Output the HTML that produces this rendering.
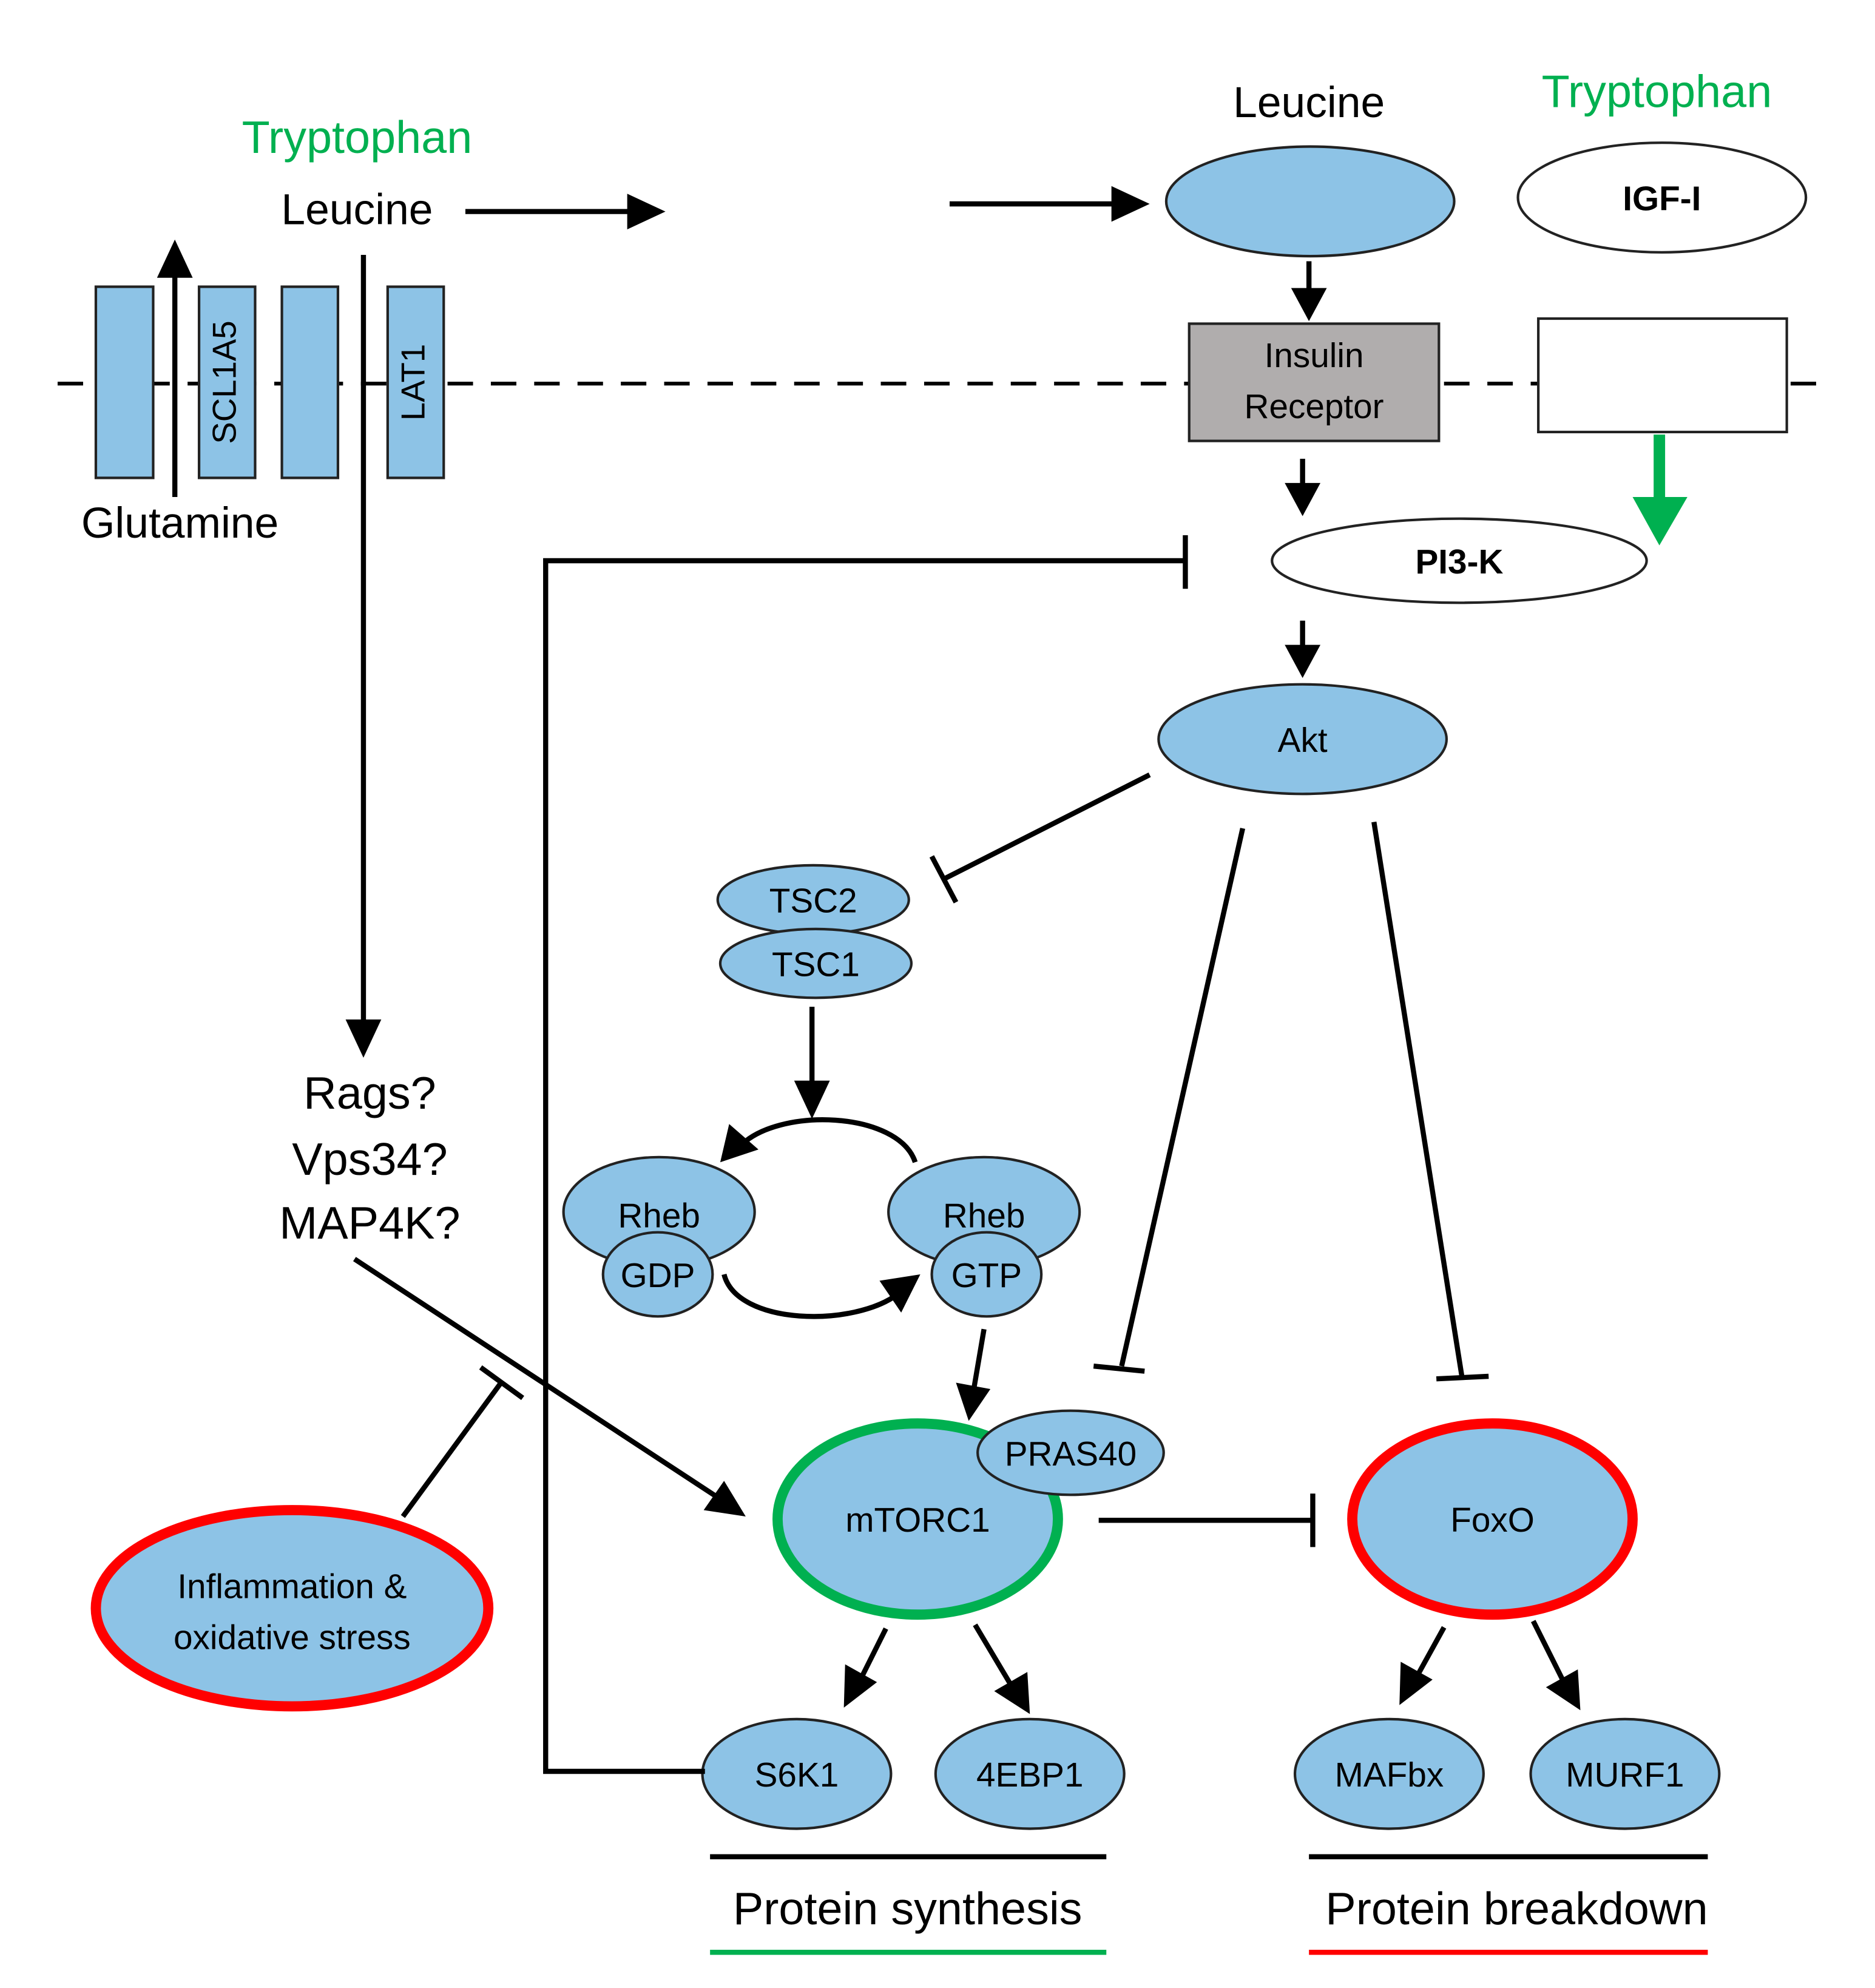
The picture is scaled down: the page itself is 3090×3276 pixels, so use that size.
<!DOCTYPE html>
<html><head><meta charset="utf-8"><style>
html,body{margin:0;padding:0;background:#fff;}
svg{display:block;}
text{font-family:"Liberation Sans",sans-serif;}
</style></head><body>
<svg width="3090" height="3276" viewBox="0 0 1471 1560" xmlns="http://www.w3.org/2000/svg">
<defs>
<marker id="ah" viewBox="0 0 10 10" refX="9" refY="5" markerWidth="10" markerHeight="10" markerUnits="userSpaceOnUse" orient="auto">
</marker>
</defs>
<g id="all" stroke-linecap="butt">
<!-- membrane -->
<line x1="45" y1="301" x2="1435" y2="301" stroke="#000" stroke-width="3" stroke-dasharray="20,14"/>
<g fill="#8dc3e6" stroke="#222" stroke-width="2">
<rect x="75" y="225" width="45" height="150"/>
<rect x="156" y="225" width="44" height="150"/>
<rect x="221" y="225" width="44" height="150"/>
<rect x="304" y="225" width="44" height="150"/>
</g>
<text x="178" y="300" font-size="26" text-anchor="middle" dominant-baseline="middle" transform="rotate(-90 178 300)">SCL1A5</text>
<text x="326" y="300" font-size="26" text-anchor="middle" dominant-baseline="middle" transform="rotate(-90 326 300)">LAT1</text>
<rect x="933" y="254" width="196" height="92" fill="#b0adad" stroke="#222" stroke-width="2"/>
<text x="1031" y="288" font-size="27" text-anchor="middle">Insulin</text>
<text x="1031" y="328" font-size="27" text-anchor="middle">Receptor</text>
<rect x="1207" y="250" width="195" height="89" fill="#fff" stroke="#222" stroke-width="2"/>

<!-- top labels -->
<text x="280" y="120" font-size="36" fill="#00b050" text-anchor="middle">Tryptophan</text>
<text x="280" y="176" font-size="34" text-anchor="middle">Leucine</text>
<text x="1027" y="92" font-size="34" text-anchor="middle">Leucine</text>
<text x="1300" y="84" font-size="36" fill="#00b050" text-anchor="middle">Tryptophan</text>
<text x="141" y="422" font-size="34" text-anchor="middle">Glutamine</text>

<!-- ellipses -->
<g stroke="#222" stroke-width="2">
<ellipse cx="1028" cy="158" rx="113" ry="43" fill="#8dc3e6"/>
<ellipse cx="1304" cy="155" rx="113" ry="43" fill="#fff"/>
<ellipse cx="1145" cy="440" rx="147" ry="33" fill="#fff"/>
<ellipse cx="1022" cy="580" rx="113" ry="43" fill="#8dc3e6"/>
<ellipse cx="638" cy="706" rx="75" ry="27" fill="#8dc3e6"/>
<ellipse cx="640" cy="756" rx="75" ry="27" fill="#8dc3e6"/>
<ellipse cx="517" cy="951" rx="75" ry="43" fill="#8dc3e6"/>
<ellipse cx="516" cy="1000" rx="43" ry="33" fill="#8dc3e6"/>
<ellipse cx="772" cy="951" rx="75" ry="43" fill="#8dc3e6"/>
<ellipse cx="774" cy="1000" rx="43" ry="33" fill="#8dc3e6"/>
<ellipse cx="625" cy="1392" rx="74" ry="43" fill="#8dc3e6"/>
<ellipse cx="808" cy="1392" rx="74" ry="43" fill="#8dc3e6"/>
<ellipse cx="1090" cy="1392" rx="74" ry="43" fill="#8dc3e6"/>
<ellipse cx="1275" cy="1392" rx="74" ry="43" fill="#8dc3e6"/>
</g>
<ellipse cx="229" cy="1262" rx="154" ry="77" fill="#8dc3e6" stroke="#f00" stroke-width="8"/>
<ellipse cx="720" cy="1192" rx="110" ry="75" fill="#8dc3e6" stroke="#00b050" stroke-width="8"/>
<ellipse cx="840" cy="1140" rx="73" ry="33" fill="#8dc3e6" stroke="#222" stroke-width="2"/>
<ellipse cx="1171" cy="1192" rx="110" ry="75" fill="#8dc3e6" stroke="#f00" stroke-width="8"/>

<g font-size="27" text-anchor="middle">
<text x="1304" y="165" font-weight="bold">IGF-I</text>
<text x="1145" y="450" font-weight="bold">PI3-K</text>
<text x="1022" y="590">Akt</text>
<text x="638" y="716">TSC2</text>
<text x="640" y="766">TSC1</text>
<text x="517" y="963">Rheb</text>
<text x="516" y="1010">GDP</text>
<text x="772" y="963">Rheb</text>
<text x="774" y="1010">GTP</text>
<text x="720" y="1202">mTORC1</text>
<text x="840" y="1150">PRAS40</text>
<text x="1171" y="1202">FoxO</text>
<text x="229" y="1254">Inflammation &amp;</text>
<text x="229" y="1294">oxidative stress</text>
<text x="625" y="1402">S6K1</text>
<text x="808" y="1402">4EBP1</text>
<text x="1090" y="1402">MAFbx</text>
<text x="1275" y="1402">MURF1</text>
</g>
<g font-size="36" text-anchor="middle">
<text x="290" y="870">Rags?</text>
<text x="290" y="922">Vps34?</text>
<text x="290" y="972">MAP4K?</text>
<text x="712" y="1510">Protein synthesis</text>
<text x="1190" y="1510">Protein breakdown</text>
</g>

<!-- lines -->
<g stroke="#000" stroke-width="4" fill="none">
<line x1="365" y1="166" x2="495" y2="166"/>
<line x1="745" y1="160" x2="875" y2="160"/>
<line x1="137" y1="390" x2="137" y2="215"/>
<line x1="285" y1="200" x2="285" y2="805"/>
<line x1="1027" y1="205" x2="1027" y2="230"/>
<line x1="1022" y1="360" x2="1022" y2="383"/>
<line x1="1022" y1="487" x2="1022" y2="510"/>
<polyline points="553,1390 428,1390 428,440 930,440"/>
<line x1="930" y1="420" x2="930" y2="462"/>
<line x1="902" y1="608" x2="740" y2="690"/>
<line x1="731" y1="672" x2="750" y2="708"/>
<line x1="637" y1="790" x2="637" y2="852"/>
<path d="M718,912 C705,872 610,868 580,900"/>
<path d="M568,1000 C578,1040 670,1042 705,1015"/>
<line x1="772" y1="1043" x2="764" y2="1090"/>
<line x1="975" y1="650" x2="880" y2="1072"/>
<line x1="858" y1="1072" x2="898" y2="1076"/>
<line x1="1078" y1="645" x2="1147" y2="1080"/>
<line x1="1127" y1="1082" x2="1168" y2="1080"/>
<line x1="278" y1="988" x2="563" y2="1175"/>
<line x1="316" y1="1190" x2="393" y2="1085"/>
<line x1="377" y1="1073" x2="410" y2="1097"/>
<line x1="862" y1="1193" x2="1030" y2="1193"/>
<line x1="1030" y1="1172" x2="1030" y2="1214"/>
<line x1="695" y1="1278" x2="676" y2="1316"/>
<line x1="765" y1="1275" x2="793" y2="1322"/>
<line x1="1133" y1="1277" x2="1112" y2="1315"/>
<line x1="1203" y1="1272" x2="1226" y2="1318"/>
<line x1="557" y1="1457" x2="868" y2="1457"/>
<line x1="1027" y1="1457" x2="1340" y2="1457"/>
</g>
<line x1="557" y1="1532" x2="868" y2="1532" stroke="#00b050" stroke-width="4"/>
<line x1="1027" y1="1532" x2="1340" y2="1532" stroke="#f00" stroke-width="4"/>
<line x1="1302" y1="341" x2="1302" y2="392" stroke="#00b050" stroke-width="9"/>
<polygon points="1281,390 1324,390 1302,428" fill="#00b050"/>

<!-- arrowheads -->
<g fill="#000">
<polygon points="522,166 492,152 492,180"/>
<polygon points="902,160 872,146 872,174"/>
<polygon points="137,188 123,218 151,218"/>
<polygon points="285,830 271,800 299,800"/>
<polygon points="1027,252 1013,226 1041,226"/>
<polygon points="1022,405 1008,379 1036,379"/>
<polygon points="1022,532 1008,506 1036,506"/>
<polygon points="637,878 623,848 651,848"/>
<polygon points="565,912 572,882 595,902"/>
<polygon points="722,1000 690,1005 707,1030"/>
<polygon points="760,1115 750,1085 777,1090"/>
<polygon points="585,1190 552,1185 568,1162"/>
<polygon points="662,1340 663,1306 688,1320"/>
<polygon points="808,1345 780,1327 806,1312"/>
<polygon points="1098,1338 1099,1304 1124,1318"/>
<polygon points="1240,1342 1213,1324 1238,1310"/>
</g>
</g>
</svg>
</body></html>
